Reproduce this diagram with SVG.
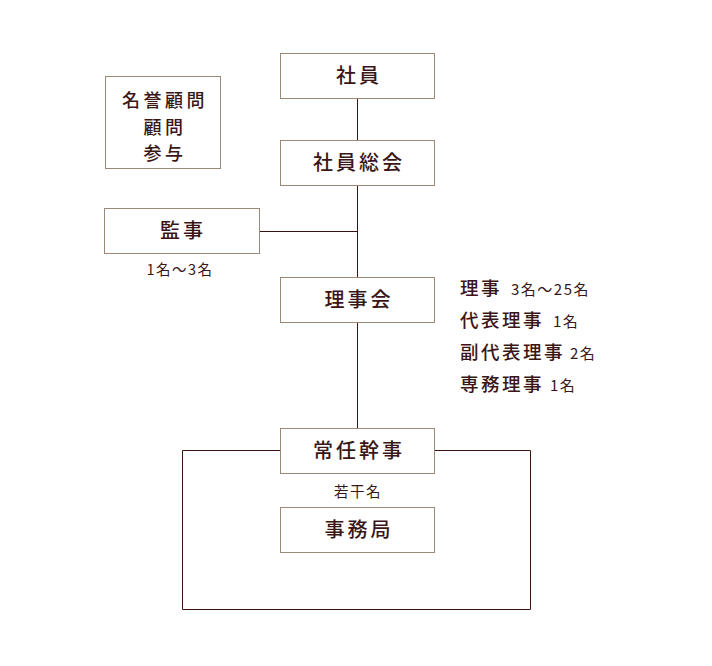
<svg xmlns="http://www.w3.org/2000/svg" width="712" height="666" viewBox="0 0 712 666">
<style>
.box{fill:#fff;stroke:#9a8878;stroke-width:1}
.ln{fill:none;stroke:#3a1212;stroke-width:1}
text{font-family:"Noto Sans CJK JP","Noto Sans",sans-serif;fill:#3a1616}
.t{font-size:20px;font-weight:500;text-anchor:middle;letter-spacing:3px}
.k{font-size:18px;font-weight:500;text-anchor:middle;letter-spacing:3.5px}
.s{font-size:14.5px;text-anchor:middle;letter-spacing:1.5px}
.r{font-size:18.5px;font-weight:500;letter-spacing:2.5px}
.n{font-size:15px;font-weight:400;letter-spacing:1.5px}
</style>
<rect width="712" height="666" fill="#fff"/>
<g id="connectors">
<line class="ln" x1="357.5" y1="98" x2="357.5" y2="428"/>
<line class="ln" x1="259" y1="231.5" x2="357.5" y2="231.5"/>
<polyline class="ln" points="280,450.5 182.5,450.5 182.5,609.5 530.5,609.5 530.5,450.5 434,450.5"/>
</g>
<g id="n-shain"><rect class="box" x="280.5" y="53.5" width="154" height="45"/><text class="t" x="359" y="83">社員</text></g>
<g id="n-soukai"><rect class="box" x="280.5" y="140.5" width="154" height="45"/><text class="t" x="359" y="170">社員総会</text></g>
<g id="n-komon"><rect class="box" x="105.5" y="76.5" width="115" height="92"/><text class="k" x="165" y="107">名誉顧問</text><text class="k" x="165" y="133.5">顧問</text><text class="k" x="165" y="160">参与</text></g>
<g id="n-kanji"><rect class="box" x="104.5" y="208.5" width="155" height="45"/><text class="t" x="183" y="238">監事</text><text class="s" x="180" y="275">1名～3名</text></g>
<g id="n-rijikai"><rect class="box" x="280.5" y="277.5" width="154" height="45"/><text class="t" x="359" y="307">理事会</text></g>
<g id="n-yakuin">
<text x="460" y="295"><tspan class="r">理事</tspan><tspan class="n" dx="9">3名～25名</tspan></text>
<text x="460" y="327"><tspan class="r">代表理事</tspan><tspan class="n" dx="9">1名</tspan></text>
<text x="460" y="359"><tspan class="r">副代表理事</tspan><tspan class="n" dx="5">2名</tspan></text>
<text x="460" y="391"><tspan class="r">専務理事</tspan><tspan class="n" dx="6">1名</tspan></text>
</g>
<g id="n-jonin"><rect class="box" x="280.5" y="428.5" width="154" height="45"/><text class="t" x="359" y="458">常任幹事</text><text class="s" x="358" y="497">若干名</text></g>
<g id="n-jimukyoku"><rect class="box" x="280.5" y="507.5" width="154" height="45"/><text class="t" x="359" y="537">事務局</text></g>
</svg>
